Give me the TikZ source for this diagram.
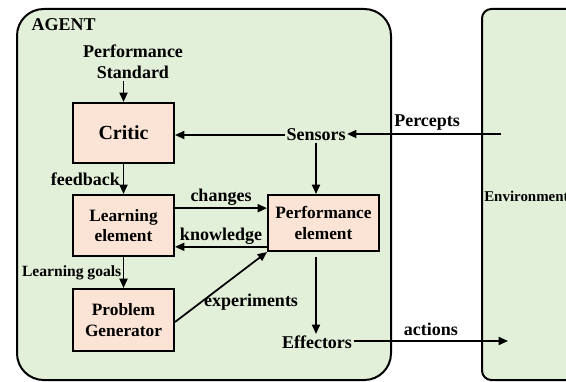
\documentclass[tikz,border=0pt]{standalone}
\usepackage{fontspec}
\setmainfont{Liberation Serif}
\usetikzlibrary{arrows.meta,calc}
\definecolor{envgreen}{HTML}{E2EFD9}
\definecolor{boxpeach}{HTML}{FBE4D5}
\begin{document}
\begin{tikzpicture}[x=0.75pt,y=-0.75pt,
  font=\bfseries,
  frame/.style={draw=black,line width=1.5pt,fill=envgreen},
  block/.style={draw=black,line width=1.5pt,fill=boxpeach,minimum width=75.75pt,
    align=center,inner sep=1pt,font=\fontsize{13}{15.5}\selectfont\bfseries},
  lbl/.style={font=\fontsize{13.5}{16}\selectfont\bfseries,inner sep=1pt},
  arr/.style={line width=1.3pt,-{Triangle[length=7pt,width=6pt]}}]
\useasboundingbox (0,0) rectangle (566,381);
\clip (0,0) rectangle (566,381);
% frames
\draw[frame,rounded corners=20pt] (17,9) rectangle (391,380);
\draw[frame,rounded corners=7pt] (482,9) rectangle (620,380);
\node[lbl,anchor=west,font=\fontsize{13.5}{16}\selectfont\bfseries] (agent) at (30,25) {AGENT};
\node[anchor=west,inner sep=0pt,font=\fontsize{11.2}{13}\selectfont\bfseries] (env) at (484,196) {Environment};
% blocks
\node[block,minimum height=45pt,font=\fontsize{15}{18}\selectfont\bfseries] (critic) at (123.5,133) {Critic};
\node[block,minimum height=45.75pt] (learn) at (123.5,225.5) {Learning\\element};
\node[block,minimum height=46.5pt] (prob) at (123.5,320) {Problem\\Generator};
\node[block,minimum height=42pt,minimum width=83.25pt] (perf) at (323.5,223) {Performance\\element};
% text nodes
\node[lbl,align=center,font=\fontsize{13.5}{15.75}\selectfont\bfseries] (ps) at (133,62) {Performance\\Standard};
\node[lbl] (sensors) at (316,135) {Sensors};
\node[lbl] (eff) at (317,342) {Effectors};
\node[lbl] (exp) at (251,302) {experiments};
\coordinate (pin) at (501,134);
\coordinate (aout) at (508,341);
% arrows
\draw[arr] (critic.north |- ps.south) -- (critic.north);
\draw[arr] (sensors.west) -- (critic.east |- sensors.west);
\draw[arr] (pin) -- (sensors.east |- pin) node[pos=0.48,above=1pt,lbl] (percepts) {Percepts};
\draw[arr] (sensors.south) -- (sensors.south |- perf.north);
\draw[arr] (critic.south) -- (learn.north) node[midway,left=1pt,lbl] (fb) {feedback};
\draw[arr] ([yshift=13pt]learn.east) -- ([yshift=13pt]learn.east -| perf.west) node[midway,above=0pt,lbl] (chg) {changes};
\draw[arr] ([yshift=-16pt]learn.east -| perf.west) -- ([yshift=-16pt]learn.east) node[midway,above=0pt,lbl] (know) {knowledge};
\draw[arr] (learn.south) -- (prob.north) node[midway,left=0pt,lbl,font=\fontsize{11.7}{14}\selectfont\bfseries] (lg) {Learning goals};
\draw[arr] ([yshift=-1.5pt]prob.east) -- (perf.south west);
\draw[arr,shorten <=4pt] (perf.south -| sensors.south) -- (sensors.south |- eff.north);
\draw[arr] (eff.east |- aout) -- (aout) node[midway,above=2pt,lbl] (act) {actions};
\end{tikzpicture}
\end{document}
